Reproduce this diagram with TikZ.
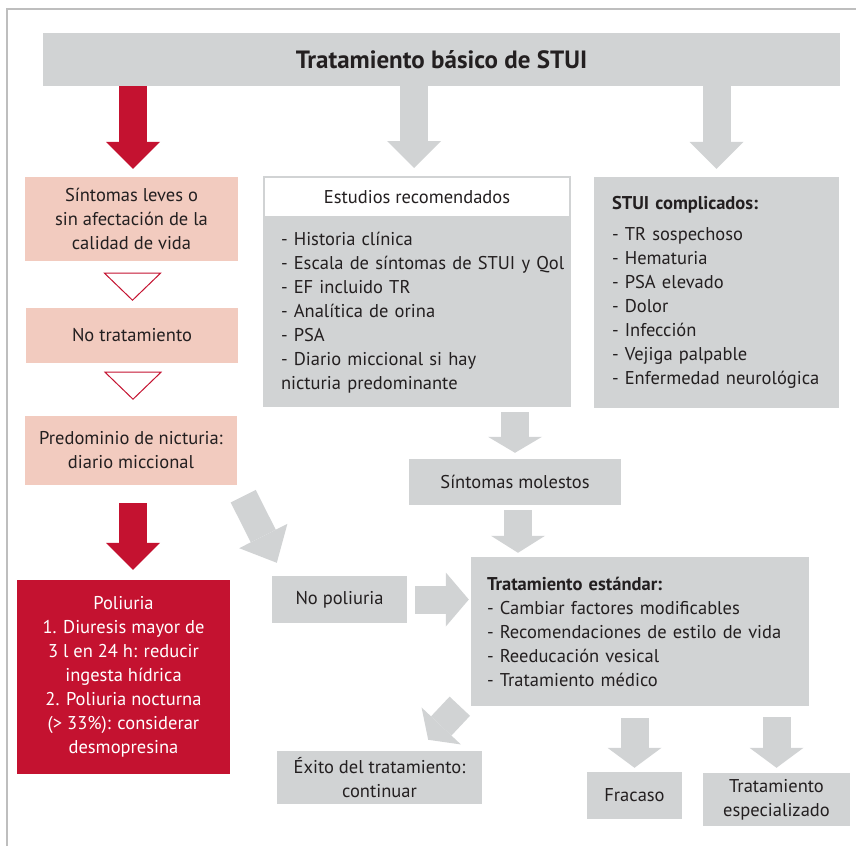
\documentclass[tikz,border=0pt]{standalone}
\usepackage{fontspec}
\setmainfont{PT Sans}
\usetikzlibrary{positioning,arrows.meta,calc}

\definecolor{boxgray}{RGB}{209,211,212}
\definecolor{softred}{RGB}{242,203,191}
\definecolor{stuired}{RGB}{196,18,48}
\definecolor{txtgray}{RGB}{35,31,32}
\definecolor{framegray}{RGB}{190,190,190}

\begin{document}
\begin{tikzpicture}[x=1pt,y=-1pt,
  font=\fontsize{18.5}{24}\selectfont, text=txtgray,
  graybox/.style={rectangle,fill=boxgray,inner sep=0pt,align=center},
  pinkbox/.style={rectangle,fill=softred,inner sep=0pt,align=center},
  listbox/.style={rectangle,fill=boxgray,inner ysep=0pt,align=left},
  blk/.style={line width=28pt,-{Triangle[width=54pt,length=#1,line width=0pt]}},
  blk/.default=27pt,
  hollowtri/.style={draw=stuired,fill=white,line width=1pt,line join=miter}]
  \useasboundingbox (0,0) rectangle (856,846);
  \draw[framegray,line width=1.5pt] (7,846) -- (7,9) -- (856,9);

  % top row
  \node[graybox,minimum width=797pt,minimum height=53pt,
        font=\fontsize{25}{28}\selectfont\bfseries] (title) at (441.5,59.5)
        {Tratamiento básico de STUI};

  % left column
  \node[pinkbox,minimum width=213pt,minimum height=84pt] (leves) at (131.5,219)
        {Síntomas leves o\\sin afectación de la\\calidad de vida};
  \node[pinkbox,minimum width=212pt,minimum height=55pt] (notrat) at (132,335.5)
        {No tratamiento};
  \node[pinkbox,minimum width=212pt,minimum height=69pt] (predom) at (131,450.5)
        {Predominio de nicturia:\\diario miccional};
  \node[rectangle,fill=stuired,text=white,inner sep=0pt,align=center,
        minimum width=213pt,minimum height=194pt] (poliuria) at (123.5,677)
        {Poliuria\\1. Diuresis mayor de\\3 l en 24 h: reducir\\ingesta hídrica\\
         2. Poliuria nocturna\\(> 33\%): considerar\\desmopresina};

  % middle column
  \node[listbox,minimum width=308pt,minimum height=189pt,
        text width=272pt,inner xsep=18pt] (estudios) at (417,312.5)
        {- Historia clínica\\\mbox{- Escala de síntomas de STUI y Qol}\\- EF incluido TR\\
         - Analítica de orina\\- PSA\\- Diario miccional si hay\\nicturia predominante};
  \node[rectangle,fill=white,draw=boxgray,line width=2pt,inner sep=0pt,
        minimum width=306pt,minimum height=40pt] (estudioshead) at (417,197)
        {Estudios recomendados};
  \node[graybox,minimum width=212pt,minimum height=46pt] (molestos) at (515,482)
        {Síntomas molestos};
  \node[graybox,minimum width=135pt,minimum height=47pt] (nopol) at (339.5,599.5)
        {No poliuria};
  \node[listbox,minimum width=338pt,minimum height=149pt,
        text width=306pt,inner xsep=16pt] (estandar) at (640,631.5)
        {\textbf{Tratamiento estándar:}\\- Cambiar factores modificables\\
         - Recomendaciones de estilo de vida\\- Reeducación vesical\\- Tratamiento médico};
  \node[graybox,minimum width=205pt,minimum height=53pt] (exito) at (379.5,777.5)
        {Éxito del tratamiento:\\continuar};
  \node[graybox,minimum width=95pt,minimum height=47pt] (fracaso) at (634.5,795.5)
        {Fracaso};
  \node[graybox,minimum width=147pt,minimum height=53pt] (especial) at (776.5,799.5)
        {Tratamiento\\especializado};

  % right column
  \node[listbox,minimum width=245pt,minimum height=231pt,
        text width=209pt,inner xsep=18pt] (complic) at (716.5,292.5)
        {\textbf{STUI complicados:}\\[7pt]- TR sospechoso\\- Hematuria\\- PSA elevado\\
         - Dolor\\- Infección\\- Vejiga palpable\\- Enfermedad neurológica};

  % block arrows
  \draw[blk,stuired,shorten >=8pt] ([xshift=1.5pt]leves.north |- title.south) -- ([xshift=1.5pt]leves.north);
  \draw[blk,boxgray,shorten >=8pt] ([xshift=-3pt]estudioshead.north |- title.south) -- ([xshift=-3pt]estudioshead.north);
  \draw[blk,boxgray,shorten >=8pt] (complic.north |- title.south) -- (complic.north);
  \draw[blk,stuired,shorten <=18pt,shorten >=10pt] ([xshift=2pt]predom.south) -- ([xshift=2pt]predom.south |- poliuria.north);
  \draw[blk=30pt,boxgray] ($(predom.south east)+(6,11)$) -- ($(nopol.north west)+(5,-13)$);
  \draw[blk=16pt,boxgray,shorten <=5pt,shorten >=6pt] (molestos.north |- estudios.south) -- (molestos.north);
  \draw[blk=17pt,boxgray,shorten <=5pt,shorten >=4pt] ([xshift=3pt]molestos.south) -- ([xshift=3pt]molestos.south |- estandar.north);
  \draw[blk=23pt,boxgray,shorten <=8pt,shorten >=2pt] (nopol.east) -- (nopol.east -| estandar.west);
  \draw[blk=19pt,boxgray] ($(estandar.south west)+(-11,0)$) -- ($(exito.north east)+(-54,-11)$);
  \draw[blk=20pt,boxgray,shorten <=12pt,shorten >=4pt] (fracaso.north |- estandar.south) -- (fracaso.north);
  \draw[blk=20pt,boxgray,shorten <=11pt,shorten >=5pt] (especial.north |- estandar.south) -- (especial.north);

  % hollow triangles
  \draw[hollowtri] ($(leves.south)+(-27,12)$) -- ++(56,0) -- ($(leves.south)+(1,39)$) -- cycle;
  \draw[hollowtri] ($(notrat.south)+(-27,9)$) -- ++(56,0) -- ($(notrat.south)+(1,36)$) -- cycle;
\end{tikzpicture}
\end{document}
